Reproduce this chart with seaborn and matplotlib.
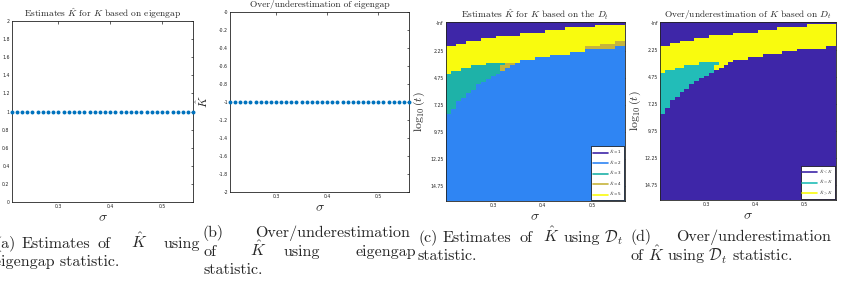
import numpy as np
import pandas as pd
import matplotlib
matplotlib.use("Agg")
import matplotlib.pyplot as plt
import seaborn as sns
from matplotlib.colors import ListedColormap
from matplotlib.lines import Line2D

# ---- data ----
sigma = [0.21, 0.22, 0.23, 0.24, 0.25, 0.26, 0.27, 0.28, 0.29, 0.30,
         0.31, 0.32, 0.33, 0.34, 0.35, 0.36, 0.37, 0.38, 0.39, 0.40,
         0.41, 0.42, 0.43, 0.44, 0.45, 0.46, 0.47, 0.48, 0.49, 0.50,
         0.51, 0.52, 0.53, 0.54, 0.55, 0.56]
khat_eig = [1] * 36          # eigengap estimate, panel (a)
diff_eig = [-1] * 36         # over/underestimation, panel (b)

n_t = 66                     # rows: log10(t) = -Inf, 0, 0.25, ..., 16
t_tick_rows = [0, 10, 20, 30, 40, 50, 60]
t_tick_labels = ['-Inf', '2.25', '4.75', '7.25', '9.75', '12.25', '14.75']
sigma_ticks = [0.3, 0.4, 0.5]
true_K = 3

# per sigma column: row where each band ends (top to bottom: K=1, 5, 3, 4, then 2)
k1_end = [9, 9, 8, 8, 7, 7, 7, 6, 6, 6, 5, 5, 5, 5, 5, 4, 4, 4, 4, 4,
          3, 3, 3, 3, 2, 2, 2, 2, 2, 2, 1, 1, 1, 1, 1, 1]
k5_end = [19, 18, 18, 17, 17, 16, 16, 16, 15, 15, 15, 15, 15, 15, 15, 14, 14, 14, 13, 13,
          13, 12, 12, 12, 12, 11, 11, 11, 9, 9, 9, 8, 8, 8, 7, 7]
k3_end = [34, 32, 29, 28, 26, 25, 23, 22, 21, 20, 19, 16, 15, 15, 15, 14, 14, 14, 13, 13,
          13, 12, 12, 12, 12, 11, 11, 11, 9, 9, 9, 8, 8, 8, 7, 7]
k4_end = [34, 32, 29, 28, 26, 25, 23, 22, 21, 20, 19, 18, 17, 16, 15, 14, 14, 14, 13, 13,
          13, 12, 12, 12, 12, 11, 11, 11, 10, 10, 10, 10, 10, 10, 9, 9]

est_colors = ['#3e26a8', '#2f85f3', '#1eb2a8', '#c6b43c', '#f9fb0e']
diff_colors = ['#3e26a8', '#22bdb8', '#f9fb0e']
est_labels = [r'$\hat{K}$ =1', r'$\hat{K}$ =2', r'$\hat{K}$ =3', r'$\hat{K}$ =4', r'$\hat{K}$ =5']
diff_labels = [r'$\hat{K} < K$', r'$\hat{K} = K$', r'$\hat{K} > K$']

# build the K-hat grid from the band boundaries
khat = np.full((n_t, len(sigma)), 2)
for c in range(len(sigma)):
    khat[:k1_end[c], c] = 1
    khat[k1_end[c]:k5_end[c], c] = 5
    khat[k5_end[c]:k3_end[c], c] = 3
    khat[k3_end[c]:k4_end[c], c] = 4
khat_df = pd.DataFrame(khat, columns=sigma)
diff_df = np.sign(khat_df - true_K) + 1

# ---- style ----
sns.set_style('white')
plt.rcParams['mathtext.fontset'] = 'cm'
plt.rcParams['axes.linewidth'] = 0.6
plt.rcParams['axes.edgecolor'] = '#222222'
SERIF = 'cmr10'
W, H = 842, 284

fig = plt.figure(figsize=(8.42, 2.84), dpi=100)


def rect(x0, y0, x1, y1):
    return [x0 / W, 1 - y1 / H, (x1 - x0) / W, (y1 - y0) / H]


def ftext(x, y, s, size=11.5):
    # y is the visual centre of the line; draw on the baseline below it
    fig.text(x / W, 1 - (y + 4) / H, s, ha='left', va='baseline', fontsize=size, family=SERIF)


def style_axes(ax):
    ax.tick_params(direction='in', length=1.8, width=0.5, labelsize=3.3,
                   top=True, right=True, pad=1.5, colors='#222222')
    for sp in ax.spines.values():
        sp.set_visible(True)
        sp.set_linewidth(0.6)
        sp.set_color('#222222')


ax_a = fig.add_axes(rect(11.7, 21, 193.3, 202))
ax_b = fig.add_axes(rect(230, 11.7, 409, 191.7))
ax_c = fig.add_axes(rect(445.7, 22, 625, 201.3))
ax_d = fig.add_axes(rect(660, 21.7, 836, 200))

# panels (a) and (b): eigengap
for ax, vals, lim, title in [
        (ax_a, khat_eig, (0, 2), r'Estimates $\hat{K}$ for $K$ based on eigengap'),
        (ax_b, diff_eig, (-2, 0), 'Over/underestimation of eigengap')]:
    sns.scatterplot(x=sigma, y=vals, ax=ax, color='#0072bd', s=8, linewidth=0,
                    clip_on=False, zorder=3)
    ax.set_xlim(sigma[0], sigma[-1])
    ax.set_ylim(*lim)
    ax.set_xticks(sigma_ticks)
    ax.set_xticklabels([str(s) for s in sigma_ticks])
    yt = np.round(np.arange(lim[0], lim[1] + 0.01, 0.2), 1)
    ax.set_yticks(yt)
    ax.set_yticklabels(['%g' % v for v in yt])
    style_axes(ax)
    ax.set_xlabel(r'$\sigma$', fontsize=10, labelpad=1)
    ax.text(0.5, 1.04, title, transform=ax.transAxes, ha='center', va='center',
            fontsize=6.8, family=SERIF)
ax_b.set_ylabel(r'$\hat{K}$', fontsize=8.5)
ax_b.yaxis.set_label_coords(-0.105, 0.5)

# panels (c) and (d): D_t heatmaps
for ax, data, cols, labels, title, lab_x in [
        (ax_c, khat_df, est_colors, est_labels,
         r'Estimates $\hat{K}$ for $K$ based on the $D_t$', -0.104),
        (ax_d, diff_df, diff_colors, diff_labels,
         r'Over/underestimation of $K$ based on $D_t$', -0.097)]:
    n = len(cols)
    vmin = 0.5 if n == 5 else -0.5
    sns.heatmap(data, ax=ax, cmap=ListedColormap(cols), vmin=vmin, vmax=vmin + n,
                cbar=False, xticklabels=False, yticklabels=False, rasterized=True)
    ax.set_xticks([sigma.index(s) + 0.5 for s in sigma_ticks])
    ax.set_xticklabels([str(s) for s in sigma_ticks], rotation=0)
    ax.set_yticks([r + 0.5 for r in t_tick_rows])
    ax.set_yticklabels(t_tick_labels, rotation=0)
    style_axes(ax)
    ax.set_xlabel(r'$\sigma$', fontsize=10, labelpad=1)
    ax.set_ylabel(r'$\log_{10}(t)$', fontsize=8.5)
    ax.yaxis.set_label_coords(lab_x, 0.5)
    ax.text(0.5, 1.04, title, transform=ax.transAxes, ha='center', va='center',
            fontsize=6.8, family=SERIF)
    handles = [Line2D([0], [0], color=c, lw=1.2) for c in cols]
    leg = ax.legend(handles, labels, loc='lower right', fontsize=3, handlelength=3.6,
                    handletextpad=0.4, labelspacing=0.55, borderpad=0.4,
                    borderaxespad=0.3, frameon=True, fancybox=False, framealpha=1)
    leg.get_frame().set_edgecolor('black')
    leg.get_frame().set_linewidth(0.5)

# ---- sub-captions (LaTeX-justified lines placed word by word) ----
for x, s in [(-4.5, '(a)'), (22, 'Estimates'), (97, 'of'), (131, r'$\hat{K}$'), (163, 'using')]:
    ftext(x, 244, s)
ftext(-6.5, 262, 'eigengap statistic.')

ftext(203, 233, '(b)')
ftext(255, 233, 'Over/underestimation')
for x, s in [(203, 'of'), (250, r'$\hat{K}$'), (283, 'using'), (355, 'eigengap')]:
    ftext(x, 252, s)
ftext(203, 270, 'statistic.')

for x, s in [(418, '(c)'), (443, 'Estimates'), (519, 'of'), (543, r'$\hat{K}$'),
             (564, 'using'), (604, r'$\mathcal{D}_t$')]:
    ftext(x, 238, s)
ftext(418, 256, 'statistic.')

ftext(630, 237, '(d)')
ftext(676, 237, 'Over/underestimation')
ftext(630, 257, r'of $\hat{K}$ using $\mathcal{D}_t$ statistic.')

fig.savefig('out.png', dpi=100)
